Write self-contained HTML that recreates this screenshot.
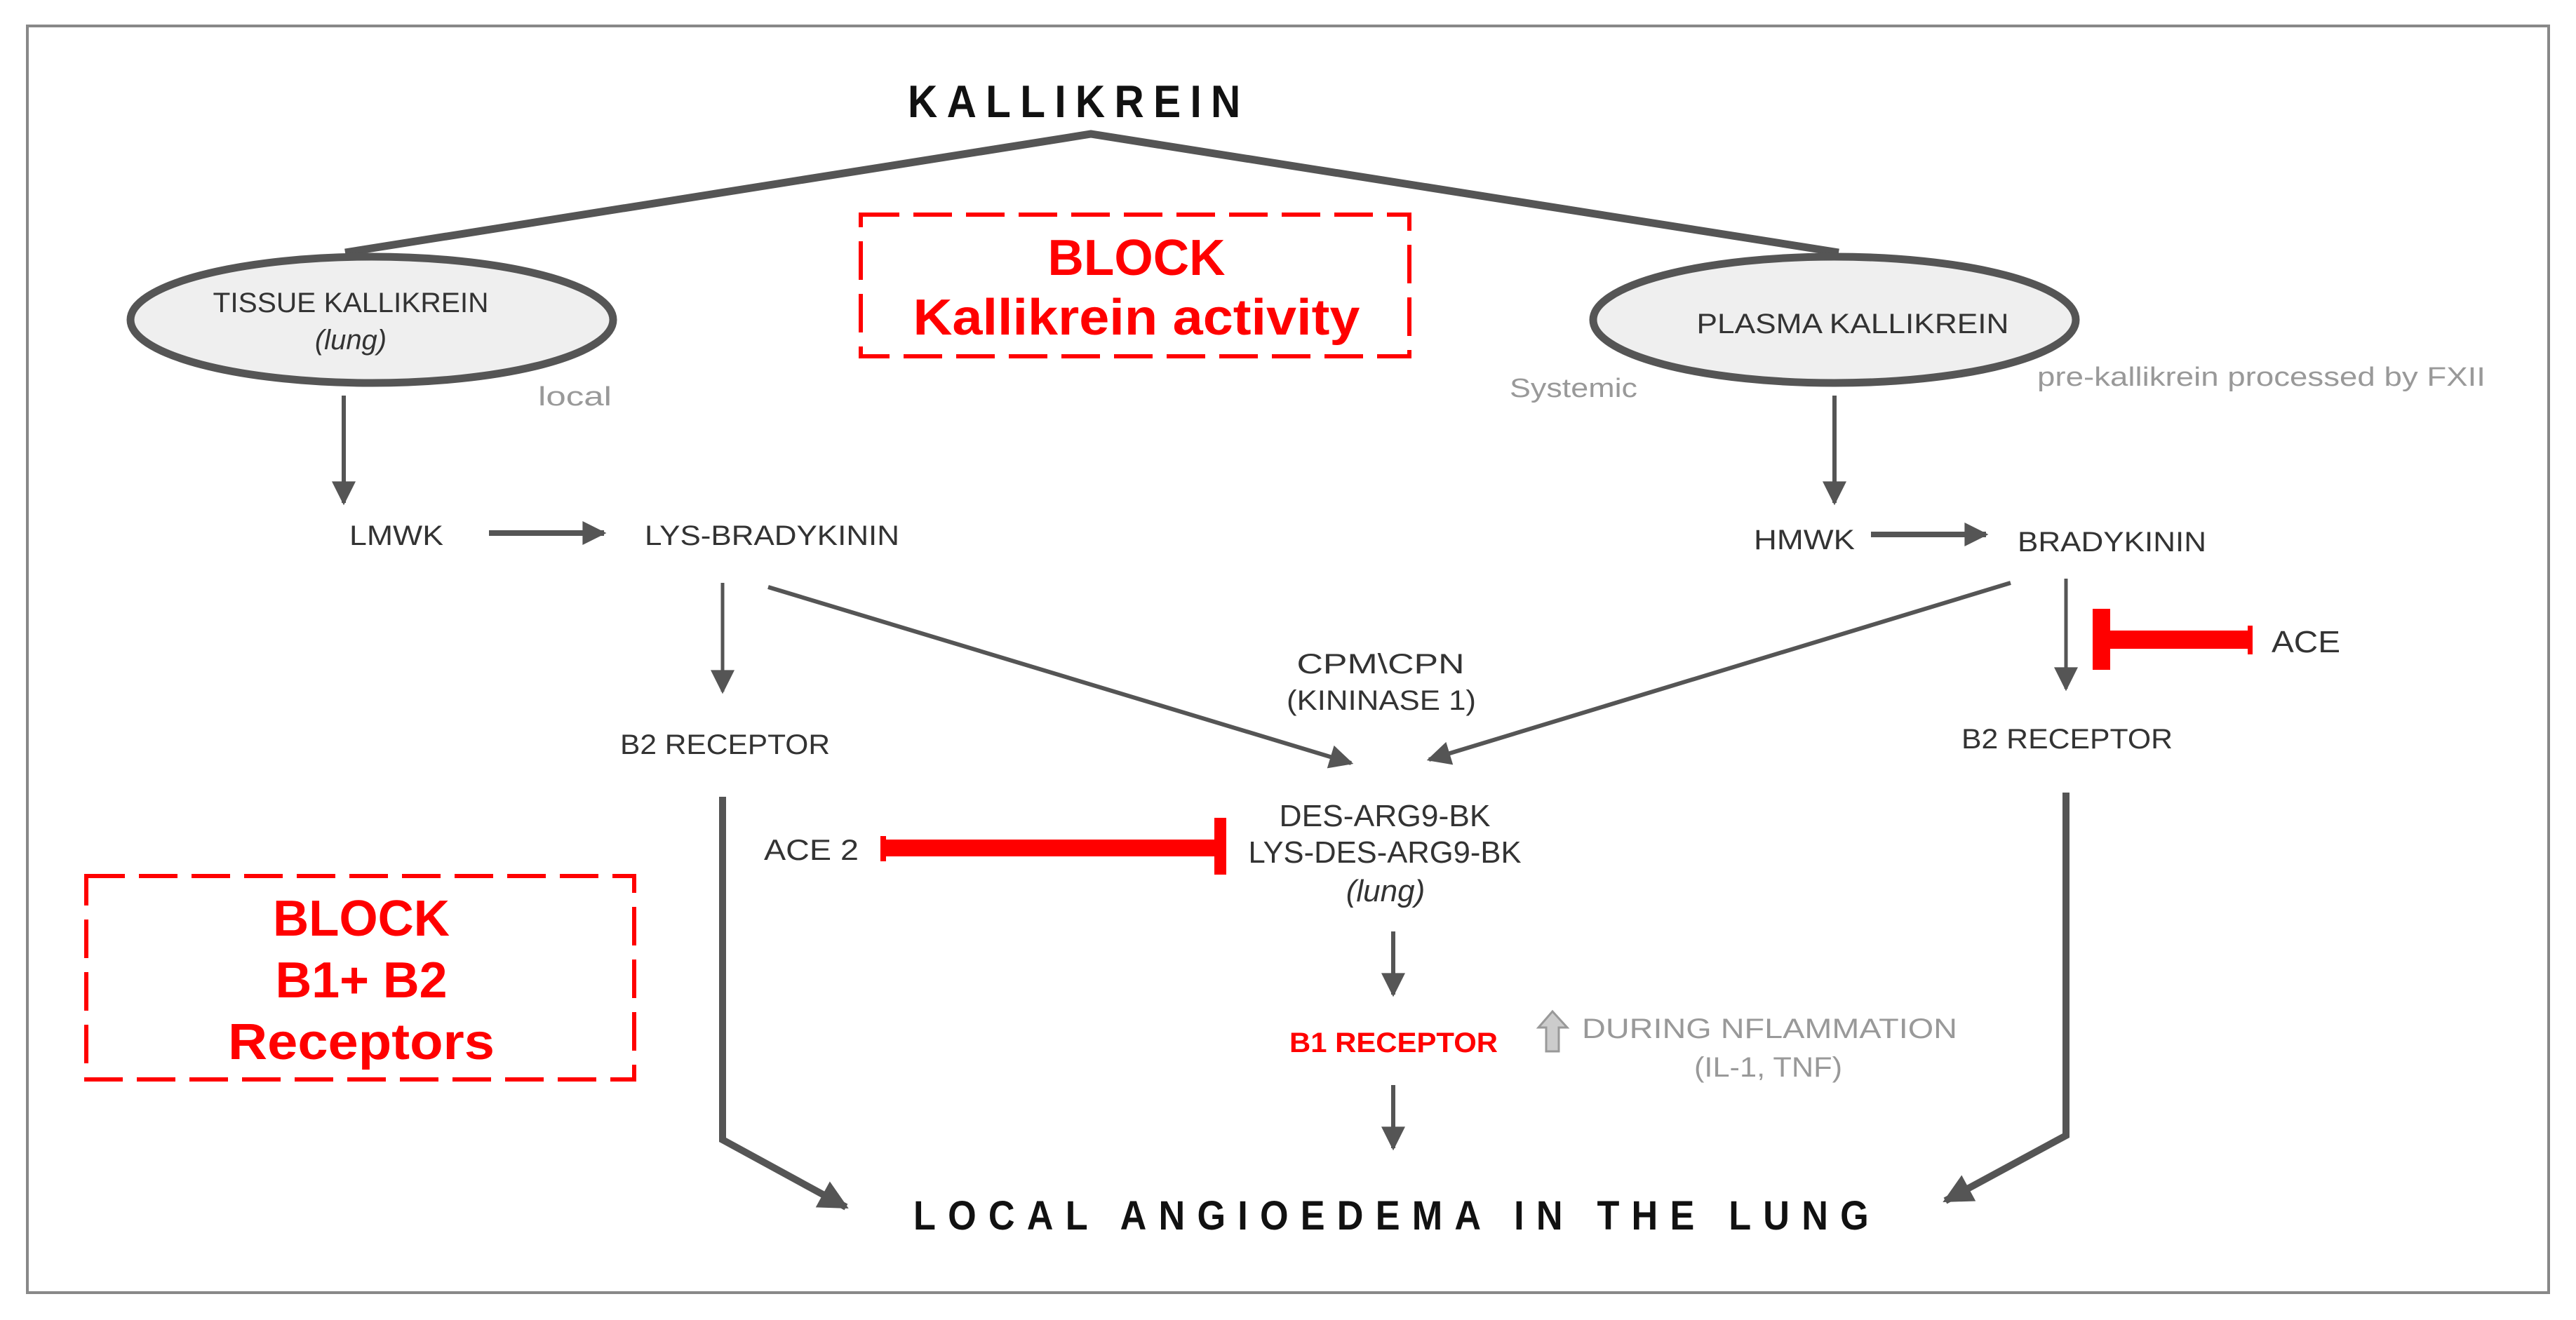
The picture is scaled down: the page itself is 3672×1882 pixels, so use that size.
<!DOCTYPE html>
<html><head><meta charset="utf-8"><style>
html,body{margin:0;padding:0;background:#fff}
svg{display:block}
text{font-family:"Liberation Sans",sans-serif}
</style></head><body>
<svg width="3672" height="1882" viewBox="0 0 3672 1882" xmlns="http://www.w3.org/2000/svg">
<defs>
<marker id="ah" viewBox="0 0 10 10" refX="9" refY="5" markerWidth="38" markerHeight="34" markerUnits="userSpaceOnUse" orient="auto">
<path d="M0,0 L10,5 L0,10 z" fill="#555"/></marker>
<marker id="ahb" viewBox="0 0 10 10" refX="9" refY="5" markerWidth="46" markerHeight="42" markerUnits="userSpaceOnUse" orient="auto">
<path d="M0,0 L10,5 L0,10 z" fill="#555"/></marker>
</defs>
<rect x="39" y="37" width="3594" height="1806" fill="#fff" stroke="#888" stroke-width="4"/>

<g transform="translate(1294,167) scale(0.9,1)">
<text x="0" y="0" font-size="65" font-weight="bold" fill="#111" textLength="527" lengthAdjust="spacing">KALLIKREIN</text>
</g>

<polyline points="492,360 1555,191 2621,360" fill="none" stroke="#555" stroke-width="11"/>

<ellipse cx="530" cy="456" rx="344" ry="90" fill="#efefef" stroke="#555" stroke-width="11"/>
<text x="500" y="445" font-size="40" fill="#333" text-anchor="middle" textLength="393" lengthAdjust="spacingAndGlyphs">TISSUE KALLIKREIN</text>
<text x="500" y="498" font-size="40" font-style="italic" fill="#333" text-anchor="middle">(lung)</text>
<text x="767" y="578" font-size="38" fill="#999" textLength="105" lengthAdjust="spacingAndGlyphs">local</text>

<ellipse cx="2615" cy="456" rx="344" ry="90" fill="#efefef" stroke="#555" stroke-width="11"/>
<text x="2641" y="475" font-size="40" fill="#333" text-anchor="middle" textLength="445" lengthAdjust="spacingAndGlyphs">PLASMA KALLIKREIN</text>
<text x="2152" y="566" font-size="38" fill="#999" textLength="182" lengthAdjust="spacingAndGlyphs">Systemic</text>
<text x="2904" y="550" font-size="38" fill="#999" textLength="639" lengthAdjust="spacingAndGlyphs">pre-kallikrein processed by FXII</text>

<rect x="1227" y="306" width="782" height="202" fill="none" stroke="#f00" stroke-width="6" stroke-dasharray="55,20"/>
<text x="1620" y="392" font-size="72" font-weight="bold" fill="#f00" text-anchor="middle" textLength="253" lengthAdjust="spacingAndGlyphs">BLOCK</text>
<text x="1620" y="477" font-size="72" font-weight="bold" fill="#f00" text-anchor="middle" textLength="637" lengthAdjust="spacingAndGlyphs">Kallikrein activity</text>

<line x1="490" y1="564" x2="490" y2="717" stroke="#555" stroke-width="6" marker-end="url(#ah)"/>
<line x1="2615" y1="564" x2="2615" y2="717" stroke="#555" stroke-width="6" marker-end="url(#ah)"/>

<text x="498" y="777" font-size="40" fill="#333" textLength="134" lengthAdjust="spacingAndGlyphs">LMWK</text>
<line x1="697" y1="760" x2="861" y2="760" stroke="#555" stroke-width="8" marker-end="url(#ah)"/>
<text x="919" y="777" font-size="40" fill="#333" textLength="363" lengthAdjust="spacingAndGlyphs">LYS-BRADYKININ</text>

<text x="2500" y="783" font-size="40" fill="#333" textLength="144" lengthAdjust="spacingAndGlyphs">HMWK</text>
<line x1="2667" y1="762" x2="2831" y2="762" stroke="#555" stroke-width="8" marker-end="url(#ah)"/>
<text x="2876" y="786" font-size="40" fill="#333" textLength="269" lengthAdjust="spacingAndGlyphs">BRADYKININ</text>

<line x1="1030" y1="831" x2="1030" y2="986" stroke="#555" stroke-width="5" marker-end="url(#ah)"/>
<line x1="2945" y1="825" x2="2945" y2="982" stroke="#555" stroke-width="5" marker-end="url(#ah)"/>
<line x1="1095" y1="837" x2="1926" y2="1088" stroke="#555" stroke-width="6" marker-end="url(#ah)"/>
<line x1="2866" y1="831" x2="2037" y2="1083" stroke="#555" stroke-width="6" marker-end="url(#ah)"/>

<text x="1968" y="960" font-size="40" fill="#333" text-anchor="middle" textLength="239" lengthAdjust="spacingAndGlyphs">CPM\CPN</text>
<text x="1969" y="1012" font-size="40" fill="#333" text-anchor="middle" textLength="270" lengthAdjust="spacingAndGlyphs">(KININASE 1)</text>

<text x="884" y="1075" font-size="40" fill="#333" textLength="299" lengthAdjust="spacingAndGlyphs">B2 RECEPTOR</text>
<text x="2796" y="1067" font-size="40" fill="#333" textLength="301" lengthAdjust="spacingAndGlyphs">B2 RECEPTOR</text>

<rect x="2983" y="868" width="25" height="87" fill="#f00"/>
<rect x="3000" y="899" width="211" height="26" fill="#f00"/>
<rect x="3204" y="892" width="7" height="41" fill="#f00"/>
<text x="3238" y="930" font-size="44" fill="#333" textLength="98" lengthAdjust="spacingAndGlyphs">ACE</text>

<text x="1089" y="1226" font-size="42" fill="#333" textLength="135" lengthAdjust="spacingAndGlyphs">ACE 2</text>
<rect x="1255" y="1192" width="8" height="36" fill="#f00"/>
<rect x="1258" y="1197" width="480" height="24" fill="#f00"/>
<rect x="1731" y="1166" width="17" height="81" fill="#f00"/>

<text x="1974" y="1178" font-size="44" fill="#333" text-anchor="middle" textLength="301" lengthAdjust="spacingAndGlyphs">DES-ARG9-BK</text>
<text x="1974" y="1230" font-size="44" fill="#333" text-anchor="middle" textLength="389" lengthAdjust="spacingAndGlyphs">LYS-DES-ARG9-BK</text>
<text x="1975" y="1285" font-size="44" font-style="italic" fill="#333" text-anchor="middle">(lung)</text>

<line x1="1986" y1="1328" x2="1986" y2="1418" stroke="#555" stroke-width="6" marker-end="url(#ah)"/>
<text x="1838" y="1500" font-size="40" font-weight="bold" fill="#f00" textLength="297" lengthAdjust="spacingAndGlyphs">B1 RECEPTOR</text>
<path d="M2213,1442 L2234,1465 L2222,1465 L2222,1499 L2204,1499 L2204,1465 L2193,1465 Z" fill="#ccc" stroke="#999" stroke-width="3"/>
<text x="2255" y="1480" font-size="40" fill="#999" textLength="535" lengthAdjust="spacingAndGlyphs">DURING NFLAMMATION</text>
<text x="2415" y="1535" font-size="40" fill="#999" textLength="211" lengthAdjust="spacingAndGlyphs">(IL-1, TNF)</text>
<line x1="1986" y1="1547" x2="1986" y2="1637" stroke="#555" stroke-width="6" marker-end="url(#ah)"/>

<polyline points="1030,1136 1030,1625 1206,1721" fill="none" stroke="#555" stroke-width="10" marker-end="url(#ahb)"/>
<polyline points="2945,1130 2945,1619 2773,1712" fill="none" stroke="#555" stroke-width="10" marker-end="url(#ahb)"/>

<rect x="123" y="1249" width="781" height="290" fill="none" stroke="#f00" stroke-width="6" stroke-dasharray="55,20"/>
<text x="515" y="1334" font-size="72" font-weight="bold" fill="#f00" text-anchor="middle" textLength="252" lengthAdjust="spacingAndGlyphs">BLOCK</text>
<text x="515" y="1422" font-size="72" font-weight="bold" fill="#f00" text-anchor="middle" textLength="245" lengthAdjust="spacingAndGlyphs">B1+ B2</text>
<text x="515" y="1510" font-size="72" font-weight="bold" fill="#f00" text-anchor="middle" textLength="380" lengthAdjust="spacingAndGlyphs">Receptors</text>

<g transform="translate(1302,1753) scale(0.9,1)">
<text x="0" y="0" font-size="58" font-weight="bold" fill="#111" textLength="1513" lengthAdjust="spacing">LOCAL ANGIOEDEMA IN THE LUNG</text>
</g>
</svg>
</body></html>
